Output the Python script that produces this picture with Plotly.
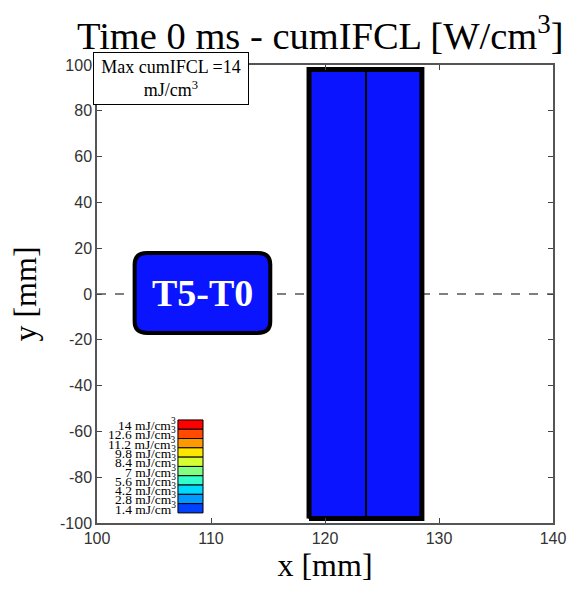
import plotly.graph_objects as go

# Data
x_range = [100, 140]
y_range = [-100, 100]
x_ticks = [100, 110, 120, 130, 140]
y_ticks = [-100, -80, -60, -40, -20, 0, 20, 40, 60, 80, 100]
y_tick_labels = ["-100", "-80", "-60", "-40", "-20", "0", "20", "40", "60", "80", "100"]
rect_left = [118.6, 123.6]
rect_right = [123.6, 128.5]
rect_bottom = -98.0
rect_top = 98.0
max_value = 14
legend_levels = [14, 12.6, 11.2, 9.8, 8.4, 7, 5.6, 4.2, 2.8, 1.4]
legend_colors = ["#ff0000", "#ff4a00", "#ff9900", "#ffe600", "#d4ff33",
                 "#80ff80", "#33ffcc", "#00d9ff", "#0099ff", "#0040ff"]
label_text = "T5-T0"

serif = "Liberation Serif, Times New Roman, serif"
sans = "Liberation Sans, Arial, sans-serif"

fig = go.Figure()

for xl, xr in zip(rect_left, rect_right):
    fig.add_trace(go.Scatter(
        x=[xl, xr, xr, xl, xl], y=[rect_bottom, rect_bottom, rect_top, rect_top, rect_bottom],
        mode="lines", fill="toself", fillcolor="#0a14ff",
        line=dict(color="black", width=2), hoverinfo="skip", showlegend=False))
fig.add_trace(go.Scatter(
    x=[rect_left[0], rect_right[-1], rect_right[-1], rect_left[0], rect_left[0]],
    y=[rect_bottom, rect_bottom, rect_top, rect_top, rect_bottom],
    mode="lines", line=dict(color="black", width=5), hoverinfo="skip", showlegend=False))

shapes = []
shapes.append(dict(type="line", xref="paper", x0=0, x1=1, yref="y", y0=0, y1=0,
                   line=dict(color="black", width=1.2, dash="dash"), layer="below"))

bx0, bx1, by0, by1 = 103.3, 115.2, -17.0, 17.9
rx, ry = 1.1, 5.0
path = (f"M {bx0+rx},{by0} L {bx1-rx},{by0} Q {bx1},{by0} {bx1},{by0+ry} "
        f"L {bx1},{by1-ry} Q {bx1},{by1} {bx1-rx},{by1} "
        f"L {bx0+rx},{by1} Q {bx0},{by1} {bx0},{by1-ry} "
        f"L {bx0},{by0+ry} Q {bx0},{by0} {bx0+rx},{by0} Z")
shapes.append(dict(type="path", path=path, xref="x", yref="y", fillcolor="#0a14ff",
                   line=dict(color="black", width=4), layer="above"))

annotations = []
annotations.append(dict(x=(bx0 + bx1) / 2, y=(by0 + by1) / 2, xref="x", yref="y",
                        text=f"<b>{label_text}</b>", showarrow=False,
                        font=dict(family=serif, size=38, color="white")))

sq_x0, sq_x1 = 107.1, 109.3
sq_top, sq_h = -55.0, 4.06
for i, (lvl, col) in enumerate(zip(legend_levels, legend_colors)):
    y1 = sq_top - i * sq_h
    y0 = y1 - sq_h
    shapes.append(dict(type="rect", xref="x", yref="y", x0=sq_x0, x1=sq_x1, y0=y0, y1=y1,
                       fillcolor=col, line=dict(color="black", width=1), layer="above"))
    lbl = f"{lvl:g}"
    annotations.append(dict(x=sq_x0, y=(y0 + y1) / 2, xref="x", yref="y",
                            text=f"{lbl} mJ/cm<sup>3</sup>", showarrow=False,
                            xanchor="right", yanchor="middle",
                            font=dict(family=serif, size=13.5, color="black")))

annotations.append(dict(x=-0.008, y=1.029, xref="paper", yref="paper", xanchor="left", yanchor="top",
                        text=f"Max cumIFCL ={max_value}<br>mJ/cm<sup>3</sup>", showarrow=False,
                        align="center", bgcolor="white", bordercolor="black", borderwidth=1,
                        width=152, height=49, borderpad=1,
                        font=dict(family=serif, size=18, color="black")))

annotations.append(dict(x=1.0285, y=1.0699, xref="paper", yref="paper",
                        xanchor="right", yanchor="middle", showarrow=False,
                        text="Time 0 ms - cumIFCL [W/cm<sup>3</sup>]",
                        font=dict(family=serif, size=38.5, color="black")))

fig.update_layout(
    width=568, height=592,
    margin=dict(l=97, r=15, t=65, b=69),
    paper_bgcolor="white", plot_bgcolor="white",
    shapes=shapes, annotations=annotations,
    xaxis=dict(range=x_range, tickvals=x_ticks, ticks="inside", ticklen=5, mirror="ticks",
               showline=True, linecolor="#555555", linewidth=1.5, showgrid=False, zeroline=False,
               automargin=False,
               tickfont=dict(family=sans, size=16, color="#333333"),
               title=dict(text="x [mm]", font=dict(family=serif, size=32, color="black"), standoff=6)),
    yaxis=dict(range=y_range, tickvals=y_ticks, ticktext=y_tick_labels, ticks="inside", ticklen=5,
               mirror="ticks", automargin=False,
               showline=True, linecolor="#555555", linewidth=1.5, showgrid=False, zeroline=False,
               tickfont=dict(family=sans, size=16, color="#333333"),
               title=dict(text="y [mm]", font=dict(family=serif, size=32, color="black"), standoff=14)),
)

fig.write_html("out.html", config={"displayModeBar": False},
               post_script="document.body.style.margin='0';document.body.style.overflow='hidden';")
